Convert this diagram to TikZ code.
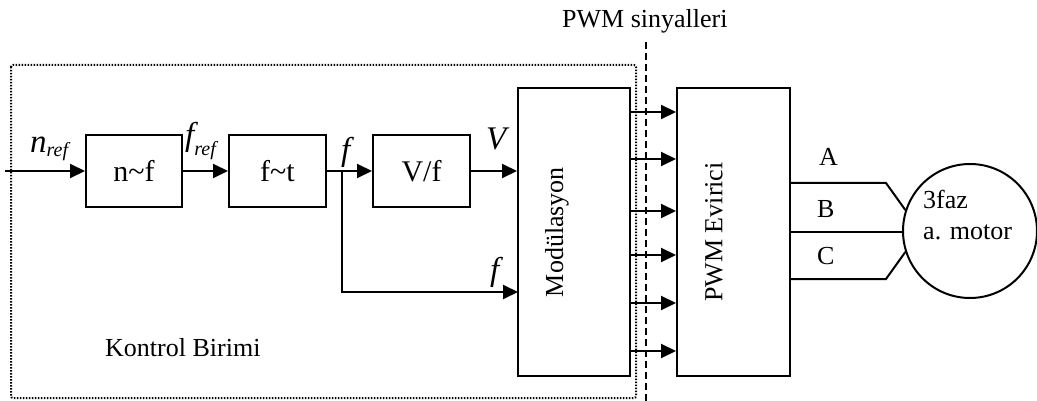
\documentclass[tikz,border=0pt]{standalone}
\usepackage{fontspec}
\setmainfont{Liberation Serif}
\usetikzlibrary{arrows.meta}
\begin{document}
\begin{tikzpicture}[x=1pt,y=-1pt,
  blk/.style={draw,line width=2pt,inner sep=0pt,font=\fontsize{30}{34}\selectfont},
  tall/.style={draw,line width=2pt,inner sep=0pt,minimum width=112pt,minimum height=288pt},
  wire/.style={line width=2pt},
  arr/.style={line width=2pt,-{Triangle[length=15pt,width=14pt]}},
  lbl/.style={inner sep=0pt,font=\fontsize{26}{30}\selectfont},
  ilbl/.style={inner sep=0pt,font=\fontsize{33}{36}\selectfont\itshape}]
\useasboundingbox (0,0) rectangle (1037,401);
% control unit frame
\draw[line width=2pt,dash pattern=on 1.5pt off 1.5pt,rounded corners=2pt] (11,65) rectangle (636,398);
\node[lbl,anchor=base west] (kb) at (105,356) {Kontrol Birimi};
% PWM signal separator
\node[lbl,anchor=base west] (ps) at (562,28) {PWM sinyalleri};
\coordinate (dtop) at (646,42);
\coordinate (dbot) at (646,401);
\draw[line width=2pt,dash pattern=on 7pt off 4pt] (dtop) -- (dbot);
% blocks
\node[blk,minimum width=96pt,minimum height=72pt] (nf) at (134,171) {n\char"007E f};
\node[blk,minimum width=97pt,minimum height=72pt] (ft) at (277.5,171) {f\char"007E t};
\node[blk,minimum width=97pt,minimum height=72pt] (vf) at (421.5,171) {V/f};
\node[tall] (mod) at (574,232) {};
\node[lbl,rotate=90,anchor=north] (modt) at (545,232) {Modülasyon};
\node[tall,minimum width=113pt] (pwm) at (733.5,232) {};
\node[lbl,rotate=90,anchor=north] (pwmt) at (705,232) {PWM Evirici};
\node[draw,circle,line width=2pt,minimum size=134pt,inner sep=0pt] (motor) at (970,231) {};
\node[lbl,anchor=base west] (mt1) at (923,208) {3faz};
\node[lbl,anchor=base west] (mt2) at (923,240) {a. motor};
% signals
\coordinate (in) at (5,171);
\draw[arr] (in) -- (nf.west);
\draw[arr] (nf.east) -- (ft.west);
\coordinate (br) at (342,171);
\draw[wire] (ft.east) -- (br);
\draw[arr] (br) -- (vf.west);
\draw[arr] (vf.east) -- (mod.west |- vf.east);
\coordinate (fl) at (518,292);
\draw[arr] (br) |- (fl);
\foreach \yy in {112,159,211,255,303,351}{
  \draw[arr] (mod.east |- 0,\yy) -- (pwm.west |- 0,\yy);
}
% labels
\node[ilbl,anchor=base west] (nref) at (30,153) {n\raisebox{-4pt}{\fontsize{20}{22}\selectfont ref}};
\node[ilbl,anchor=base west] (fref) at (185,146) {f\raisebox{-10pt}{\fontsize{20}{22}\selectfont ref}};
\node[ilbl,anchor=base west] (f1) at (341,161) {f};
\node[ilbl,anchor=base west] (vl) at (486,150) {V};
\node[ilbl,anchor=base west] (f2) at (490,280) {f};
% phases
\coordinate (a1) at (790,183);
\coordinate (a2) at (886,183);
\coordinate (b1) at (790,232);
\coordinate (c1) at (790,279);
\coordinate (c2) at (886,279);
\draw[wire] (a1) -- (a2) -- (motor.162);
\draw[wire] (b1) -- (motor.west |- b1);
\draw[wire] (c1) -- (c2) -- (motor.198);
\node[lbl,anchor=base west] (la) at (819,166) {A};
\node[lbl,anchor=base west] (lb) at (817,218) {B};
\node[lbl,anchor=base west] (lc) at (817,265) {C};
\end{tikzpicture}
\end{document}
